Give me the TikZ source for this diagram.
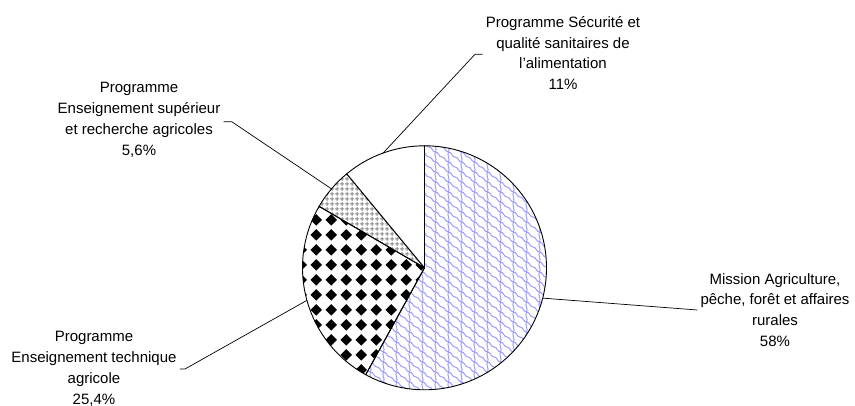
\documentclass[tikz,border=0pt]{standalone}
\usepackage{fontspec}
\setmainfont{Liberation Sans}
\usepackage{tikz}
\usetikzlibrary{patterns}
\definecolor{wavyblue}{HTML}{9C9CFF}
\definecolor{gridgrey}{HTML}{8C8C8C}

% curvy blue tiles
\pgfdeclarepatternformonly{bluewave}{\pgfpoint{-1pt}{-2pt}}{\pgfpoint{14pt}{15pt}}{\pgfpoint{13pt}{10pt}}{
  \pgfsetlinewidth{1pt}
  \pgfpathmoveto{\pgfpoint{0pt}{9pt}}
  \pgfpathcurveto{\pgfpoint{3.5pt}{9pt}}{\pgfpoint{3pt}{4pt}}{\pgfpoint{6.5pt}{4pt}}
  \pgfpathcurveto{\pgfpoint{10pt}{4pt}}{\pgfpoint{9.5pt}{-1pt}}{\pgfpoint{13pt}{-1pt}}
  \pgfpathmoveto{\pgfpoint{6.5pt}{4pt}}
  \pgfpathcurveto{\pgfpoint{8.5pt}{7pt}}{\pgfpoint{4.5pt}{11pt}}{\pgfpoint{6.5pt}{14pt}}
  \pgfusepath{stroke}
}
% black diamonds
\pgfdeclarepatternformonly{blackdiamonds}{\pgfpoint{0pt}{0pt}}{\pgfpoint{14.7pt}{14.7pt}}{\pgfpoint{14.7pt}{14.7pt}}{
  \pgfpathmoveto{\pgfpoint{7.35pt}{1.5pt}}
  \pgfpathlineto{\pgfpoint{13.2pt}{7.35pt}}
  \pgfpathlineto{\pgfpoint{7.35pt}{13.2pt}}
  \pgfpathlineto{\pgfpoint{1.5pt}{7.35pt}}
  \pgfpathclose
  \pgfusepath{fill}
}
% grey cross hatch
\pgfdeclarepatternformonly{greygrid}{\pgfpoint{0pt}{0pt}}{\pgfpoint{5pt}{5pt}}{\pgfpoint{5pt}{5pt}}{
  \pgfsetlinewidth{1.3pt}
  \pgfpathmoveto{\pgfpoint{2.5pt}{0pt}}
  \pgfpathlineto{\pgfpoint{2.5pt}{5pt}}
  \pgfpathmoveto{\pgfpoint{0pt}{2.5pt}}
  \pgfpathlineto{\pgfpoint{5pt}{2.5pt}}
  \pgfusepath{stroke}
}

\begin{document}
\begin{tikzpicture}[
    x=1pt, y=1pt,
    slice/.style={draw=black, line width=0.9pt, line join=round},
    lbl/.style={font=\fontsize{15}{20.8}\selectfont, align=center, inner sep=3pt},
    leader/.style={draw=black, line width=0.7pt},
]
\useasboundingbox (0,0) rectangle (855,406);
\coordinate (ctr) at (424.5,138.2);
\def\rad{122}

% slices, clockwise from the top
\path[slice, pattern=bluewave, pattern color=wavyblue] (ctr) -- ++(90:\rad) arc[start angle=90, end angle=-118.8, radius=\rad] -- cycle;
\path[slice, pattern=blackdiamonds, pattern color=black] (ctr) -- ++(-118.8:\rad) arc[start angle=-118.8, end angle=-210.24, radius=\rad] -- cycle;
\path[slice, pattern=greygrid, pattern color=gridgrey] (ctr) -- ++(149.76:\rad) arc[start angle=149.76, end angle=129.6, radius=\rad] -- cycle;
\path[slice, fill=white] (ctr) -- ++(129.6:\rad) arc[start angle=129.6, end angle=90, radius=\rad] -- cycle;

\coordinate (eAgri) at ([shift={(-14.4:\rad)}]ctr);
\coordinate (eTech) at ([shift={(-164.52:\rad)}]ctr);
\coordinate (eSup) at ([shift={(139.68:\rad)}]ctr);
\coordinate (eSecu) at ([shift={(109.8:\rad)}]ctr);

\node[lbl] (agri) at (775,96) {Mission Agriculture,\\pêche, forêt et affaires\\rurales\\58\%};
\node[lbl] (tech) at (94,37) {Programme\\Enseignement technique\\agricole\\25,4\%};
\node[lbl] (sup) at (139,286) {Programme\\Enseignement supérieur\\et recherche agricoles\\5,6\%};
\node[lbl] (secu) at (563,353) {Programme Sécurité et\\qualité sanitaires de\\l’alimentation\\11\%};

\coordinate (kTech) at (185,37);
\coordinate (kSup) at (231.7,284.3);
\coordinate (kSecu) at (475,351.7);

\draw[leader] (eAgri) -- (agri.west);
\draw[leader] (eTech) -- (kTech) -- (tech.east |- kTech);
\draw[leader] (eSup) -- (kSup) -- (sup.east |- kSup);
\draw[leader] (eSecu) -- (kSecu) -- (secu.west |- kSecu);

\end{tikzpicture}
\end{document}
